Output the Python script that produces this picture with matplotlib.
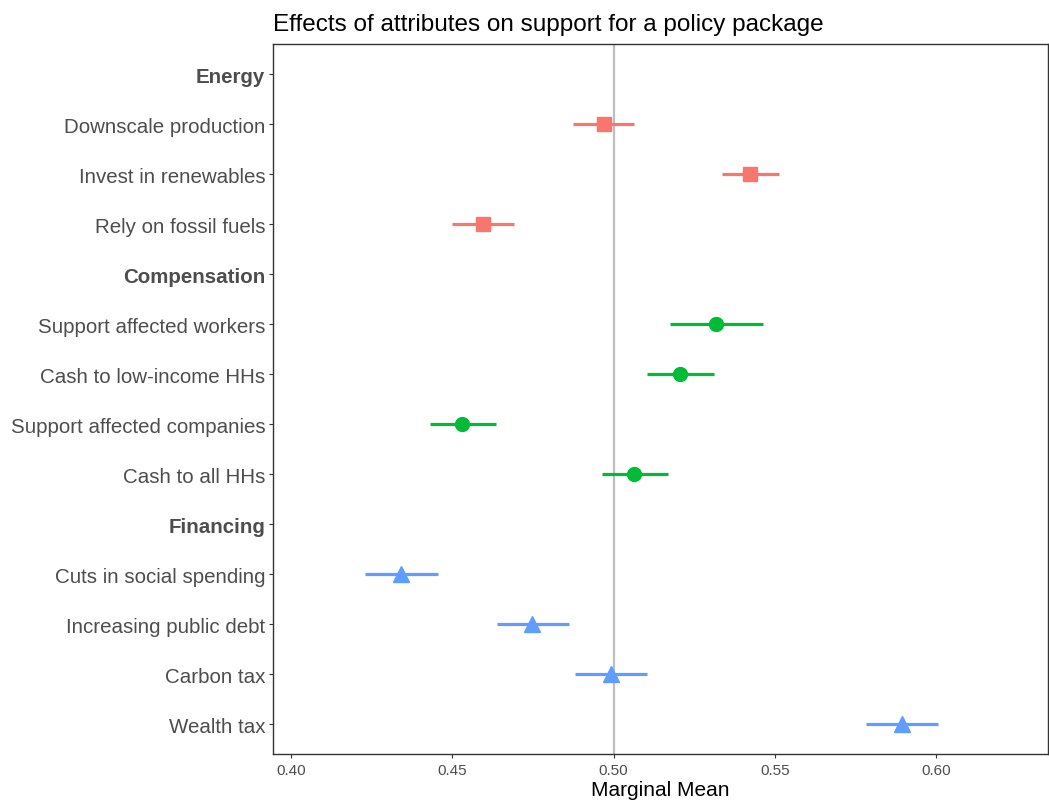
import matplotlib.pyplot as plt
import numpy as np

plt.rcParams['font.family'] = ['Liberation Sans', 'DejaVu Sans']

labels = ['Energy', 'Downscale production', 'Invest in renewables', 'Rely on fossil fuels',
          'Compensation', 'Support affected workers', 'Cash to low-income HHs',
          'Support affected companies', 'Cash to all HHs',
          'Financing', 'Cuts in social spending', 'Increasing public debt',
          'Carbon tax', 'Wealth tax']
headers = ['Energy', 'Compensation', 'Financing']

energy_est = [0.4970, 0.5423, 0.4595]
energy_lo = [0.4875, 0.5336, 0.4499]
energy_hi = [0.5064, 0.5513, 0.4691]

comp_est = [0.5318, 0.5206, 0.4530, 0.5064]
comp_lo = [0.5175, 0.5104, 0.4431, 0.4964]
comp_hi = [0.5464, 0.5312, 0.4636, 0.5169]

fin_est = [0.4341, 0.4747, 0.4992, 0.5895]
fin_lo = [0.4229, 0.4639, 0.4881, 0.5783]
fin_hi = [0.4456, 0.4862, 0.5104, 0.6006]

fig = plt.figure(figsize=(10.49, 8.04), dpi=100)
ax = fig.add_axes([0.2602, 0.0609, 0.7388, 0.8831])

ax.axvline(0.5, color='#BEBEBE', lw=1.6, zorder=1)

groups = [
    (energy_est, energy_lo, energy_hi, '#F8766D', 's', 10, 1),
    (comp_est, comp_lo, comp_hi, '#00BA38', 'o', 10, 5),
    (fin_est, fin_lo, fin_hi, '#619CFF', '^', 11, 10),
]
for est, lo, hi, col, mk, ms, start in groups:
    est = np.array(est)
    y = np.arange(start, start + len(est))
    err = [est - np.array(lo), np.array(hi) - est]
    ax.errorbar(est, y, xerr=err, fmt=mk, color=col, ms=ms, elinewidth=2.3,
                capsize=0, zorder=3)

ax.set_yticks(range(len(labels)))
ax.set_yticklabels(labels)
for t in ax.get_yticklabels():
    if t.get_text() in headers:
        t.set_fontweight('bold')
ax.set_ylim(len(labels) - 1 + 0.6, -0.6)
ax.set_xlim(0.3944, 0.6347)
ax.set_xticks([0.40, 0.45, 0.50, 0.55, 0.60])
ax.set_xticklabels(['0.40', '0.45', '0.50', '0.55', '0.60'])
ax.tick_params(axis='y', labelsize=14.8, labelcolor='#4D4D4D', color='#333333',
               length=3, pad=2.5)
ax.tick_params(axis='x', labelsize=11, labelcolor='#4D4D4D', color='#333333', length=3)
for s in ax.spines.values():
    s.set_color('#333333')
    s.set_linewidth(1.0)
ax.set_xlabel('Marginal Mean', fontsize=15, labelpad=2)
ax.set_title('Effects of attributes on support for a policy package', fontsize=17.5,
             loc='left', pad=10)

fig.savefig('out.png', dpi=100)
